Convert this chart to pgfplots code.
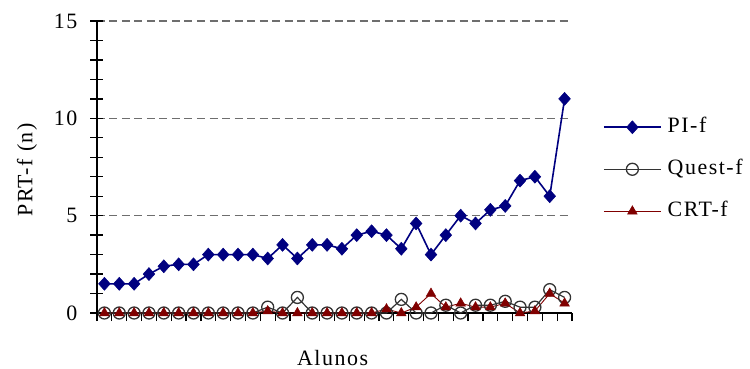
\documentclass[border=0pt]{standalone}
\usepackage{fontspec}
\setmainfont{Liberation Serif}[LetterSpace=7]
\usepackage{pgfplots}
\usepackage{pgfplotstable}
\pgfplotsset{compat=1.18}
\definecolor{piblue}{RGB}{0,0,128}
\definecolor{qgray}{RGB}{51,51,51}
\definecolor{crtred}{RGB}{128,0,0}
\definecolor{gridgray}{RGB}{110,110,110}
\pgfplotstableread{
x pi quest crt
1 1.5 0 0
2 1.5 0 0
3 1.5 0 0
4 2.0 0 0
5 2.4 0 0
6 2.5 0 0
7 2.5 0 0
8 3.0 0 0
9 3.0 0 0
10 3.0 0 0
11 3.0 0 0
12 2.8 0.3 0.1
13 3.5 0 0
14 2.8 0.8 0
15 3.5 0 0
16 3.5 0 0
17 3.3 0 0
18 4.0 0 0
19 4.2 0 0
20 4.0 0 0.2
21 3.3 0.7 0
22 4.6 0 0.3
23 3.0 0 1.0
24 4.0 0.4 0.3
25 5.0 0 0.5
26 4.6 0.4 0.3
27 5.3 0.4 0.3
28 5.5 0.6 0.5
29 6.8 0.3 0
30 7.0 0.3 0.1
31 6.0 1.2 1.0
32 11.0 0.8 0.5
}\datatable
\begin{document}
\fontsize{22}{26}\selectfont
\begin{tikzpicture}
\useasboundingbox (-97bp,-56bp) rectangle (653bp,313bp);
% axis carrying only the category tick marks of the x axis
\begin{axis}[
  at={(0,0)}, anchor=south west,
  scale only axis, width=475bp, height=292bp,
  xmin=0.5, xmax=32.5, ymin=0, ymax=15,
  hide y axis,
  axis x line*=bottom,
  axis line style={line width=1.2bp,-},
  xtick={0.5,1.5,...,32.5},
  xticklabel={\relax},
  tick align=outside, major tick length=8bp,
  tick style={black, line width=1.2bp},
]
\end{axis}
\begin{axis}[
  at={(0,0)}, anchor=south west,
  scale only axis, width=475bp, height=292bp,
  xmin=0.5, xmax=32.5, ymin=0, ymax=15,
  clip=false,
  axis x line*=bottom, axis y line*=left,
  axis line style={line width=1.2bp,-},
  xtick=\empty,
  ytick={0,5,10,15}, minor y tick num=4,
  tick align=center, major tick length=13bp, minor tick length=13bp,
  tick style={black, line width=1.3bp},
  ymajorgrids,
  grid style={gridgray, dash pattern=on 8bp off 4.5bp, line width=1.2bp},
  /pgf/number format/assume math mode=true,
  yticklabel style={anchor=east, inner sep=0pt, xshift=-13bp},
  ylabel={PRT-f (n)}, xlabel={Alunos},
  every axis y label/.style={at={(axis description cs:-0.1474,0.49)}, rotate=90, anchor=center},
  every axis x label/.style={at={(axis description cs:0.496,-0.154)}, anchor=center},
  legend style={draw=none, fill=none, at={(1.065,0.671)}, anchor=north west,
    inner sep=0pt, row sep=22bp, column sep=6bp,
    nodes={inner sep=0pt, text height=15bp, text depth=5bp}},
  legend cell align=left,
  legend image code/.code={
    \draw[mark repeat=2,mark phase=2,#1] plot coordinates {(0bp,0bp)(28.5bp,0bp)(57bp,0bp)};
  },
]
\addplot[piblue, line width=1.6bp, mark=diamond*, mark size=6.5bp,
  mark options={fill=piblue, draw=piblue, line width=0.5bp, xscale=1.2}]
  table[x=x, y=pi] {\datatable};
\addlegendentry{PI-f}
\addplot[qgray, line width=1.2bp, mark=o, mark size=6bp,
  mark options={draw=qgray, line width=1.3bp}]
  table[x=x, y=quest] {\datatable};
\addlegendentry{Quest-f}
\addplot[crtred, line width=0.9bp, mark=triangle*, mark size=5.5bp,
  mark options={fill=crtred, draw=crtred, line width=0.5bp}]
  table[x=x, y=crt] {\datatable};
\addlegendentry{CRT-f}
\end{axis}
\end{tikzpicture}
\end{document}
